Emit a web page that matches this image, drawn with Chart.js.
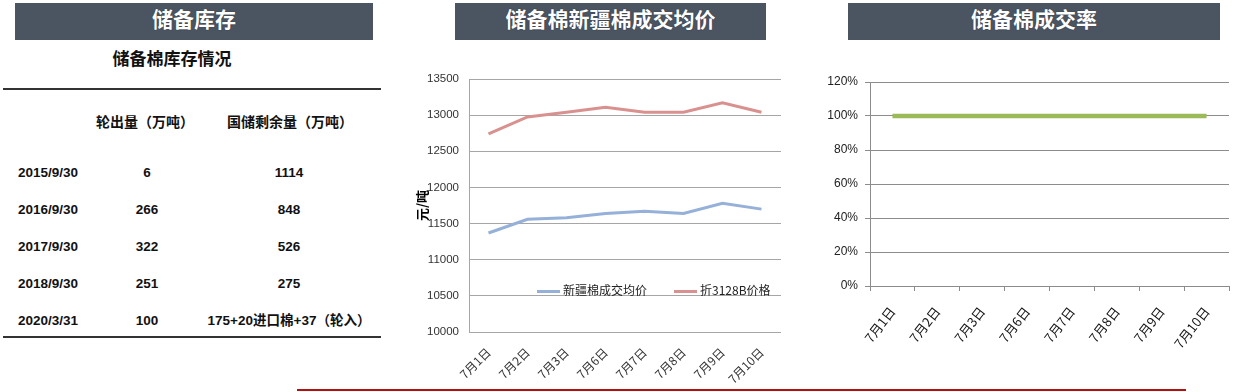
<!DOCTYPE html>
<html>
<head>
<meta charset="utf-8">
<script src="https://cdn.jsdelivr.net/npm/chart.js@4.4.1/dist/chart.umd.min.js"></script>
<style>
  body { margin: 0; width: 1235px; height: 392px; position: relative; background: #fff; overflow: hidden;
         font-family: "Liberation Sans", "Noto Sans CJK SC", sans-serif; }
  .hdr { position: absolute; top: 3px; height: 37px; line-height: 37px; background: #4b5461; color: #fff;
         font: bold 21px "Noto Sans CJK SC", sans-serif; text-align: center; text-shadow: 0 0 1px #1c2230; }
  .cell { position: absolute; font-weight: bold; color: #111; white-space: nowrap; }
  .rule { position: absolute; left: 3px; width: 378px; height: 2px; background: #333; }
  canvas { position: absolute; }
  .legend { position: absolute; top: 281px; font: 12px "Noto Sans CJK SC", sans-serif; color: #222; white-space: nowrap; }
  .legend span.key { display: inline-block; width: 23px; height: 3px; vertical-align: middle; margin-right: 3px; }
</style>
</head>
<body>
<div class="hdr" style="left:15px;width:358px;">储备库存</div>
<div class="hdr" style="left:455px;width:311px;">储备棉新疆棉成交均价</div>
<div class="hdr" style="left:848px;width:372px;">储备棉成交率</div>

<div id="table"></div>
<canvas id="priceChart" width="400" height="332" style="left:400px;top:60px;"></canvas>
<div id="priceLegend"></div>
<canvas id="rateChart" width="435" height="332" style="left:800px;top:60px;"></canvas>
<div style="position:absolute;left:297px;top:389px;width:889px;height:2px;background:#b01212;"></div>

<script>
// left table: reserve stock
const stockTitle = '储备棉库存情况';
const stockColumns = ['轮出量（万吨）', '国储剩余量（万吨）'];
const stockDates = ['2015/9/30', '2016/9/30', '2017/9/30', '2018/9/30', '2020/3/31'];
const stockOut = ['6', '266', '322', '251', '100'];
const stockLeft = ['1114', '848', '526', '275', '175+20进口棉+37（轮入）'];

// price chart
const days = ['7月1日', '7月2日', '7月3日', '7月6日', '7月7日', '7月8日', '7月9日', '7月10日'];
const xinjiangPrice = [11370, 11560, 11580, 11640, 11670, 11640, 11780, 11700];
const price3128 = [12740, 12975, 13040, 13110, 13040, 13040, 13170, 13040];

// deal rate chart (%)
const dealRate = [100, 100, 100, 100, 100, 100, 100, 100];

// build the table
const table = document.getElementById('table');
function addCell(text, x, y, size, align) {
  const d = document.createElement('div');
  d.className = 'cell';
  d.textContent = text;
  d.style.fontSize = size + 'px';
  d.style.top = (y - size * 0.6) + 'px';
  d.style.lineHeight = (size * 1.2) + 'px';
  if (align === 'center') {
    d.style.left = (x - 150) + 'px';
    d.style.width = '300px';
    d.style.textAlign = 'center';
  } else {
    d.style.left = x + 'px';
  }
  table.appendChild(d);
}
addCell(stockTitle, 172, 60, 17, 'center');
addCell(stockColumns[0], 145, 122, 14, 'center');
addCell(stockColumns[1], 290, 122, 14, 'center');
const rowY = [173, 210, 247, 284, 321];
stockDates.forEach((d, i) => {
  addCell(d, 18, rowY[i], 13.5);
  addCell(stockOut[i], 147, rowY[i], 13.5, 'center');
  addCell(stockLeft[i], 289, rowY[i], 13.5, 'center');
});
['88px', '336px'].forEach((t) => {
  const r = document.createElement('div');
  r.className = 'rule';
  r.style.top = t;
  table.appendChild(r);
});

const priceChart = new Chart(document.getElementById('priceChart'), {
  type: 'line',
  data: {
    labels: days,
    datasets: [
      { label: '新疆棉成交均价', data: xinjiangPrice, borderColor: '#95b0d9', borderWidth: 3, pointRadius: 0, tension: 0 },
      { label: '折3128B价格', data: price3128, borderColor: '#d9918f', borderWidth: 3, pointRadius: 0, tension: 0 },
    ],
  },
  options: {
    responsive: false,
    animation: false,
    layout: { padding: { top: 19, right: 19, left: 0, bottom: 0 } },
    plugins: { legend: { display: false }, tooltip: { enabled: false } },
    scales: {
      x: {
        offset: true,
        grid: { display: false },
        border: { display: false },
        ticks: { autoSkip: false, minRotation: 45, maxRotation: 45, padding: 5,
                  color: '#333', font: { size: 12, family: 'Noto Sans CJK SC' } },
        afterFit: (s) => { s.height = 60; },
      },
      y: {
        min: 10000,
        max: 13500,
        grid: { color: '#a6a6a6', drawTicks: false },
        border: { color: '#a6a6a6' },
        ticks: { stepSize: 500, padding: 10, color: '#333', font: { size: 11.5, family: 'Liberation Sans' },
                 callback: (v) => String(v) },
        title: { display: true, text: '元/吨', color: '#000', padding: { top: 14, bottom: 0 },
                 font: { size: 13, weight: 'bold', family: 'Noto Sans CJK SC' } },
        afterFit: (s) => { s.width = 69; },
      },
    },
  },
});

// html legend placed inside the plot, built from the datasets
const legendX = [537, 674];
priceChart.data.datasets.forEach((ds, i) => {
  const item = document.createElement('div');
  item.className = 'legend';
  item.style.left = legendX[i] + 'px';
  item.innerHTML = '<span class="key" style="background:' + ds.borderColor + '"></span>' + ds.label;
  document.getElementById('priceLegend').appendChild(item);
});

new Chart(document.getElementById('rateChart'), {
  type: 'line',
  data: {
    labels: days,
    datasets: [
      { label: '储备棉成交率', data: dealRate, borderColor: '#9bbb59', borderWidth: 4.5, pointRadius: 0, tension: 0 },
    ],
  },
  options: {
    responsive: false,
    animation: false,
    layout: { padding: { top: 22, right: 6, left: 0, bottom: 0 } },
    plugins: { legend: { display: false }, tooltip: { enabled: false } },
    scales: {
      x: {
        offset: true,
        grid: { offset: true, drawOnChartArea: false, drawTicks: true, tickLength: 5, color: '#8c8c8c' },
        border: { color: '#8c8c8c' },
        ticks: { autoSkip: false, minRotation: 52, maxRotation: 52, padding: 13,
                 color: '#111', font: { size: 13, family: 'Noto Sans CJK SC' } },
        afterFit: (s) => { s.height = 106; },
      },
      y: {
        min: 0,
        max: 120,
        grid: { color: '#8c8c8c', tickLength: 5 },
        border: { color: '#8c8c8c' },
        ticks: { stepSize: 20, padding: 7, color: '#222', font: { size: 12, family: 'Liberation Sans' },
                 callback: (v) => v + '%' },
        afterFit: (s) => { s.width = 70; },
      },
    },
  },
});
</script>
</body>
</html>
